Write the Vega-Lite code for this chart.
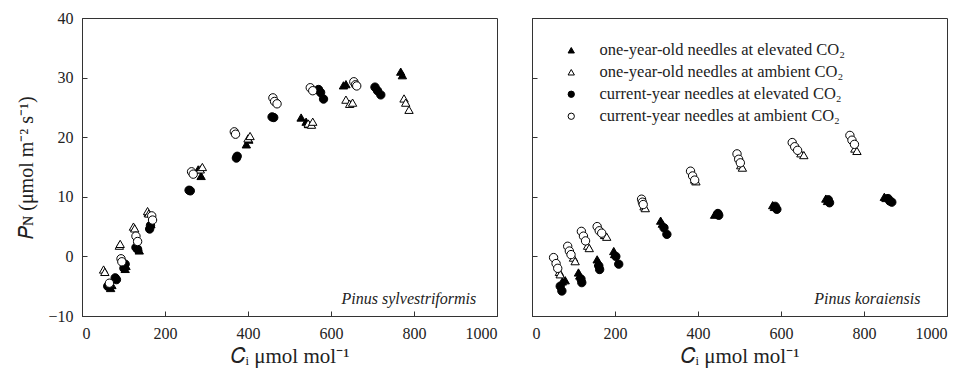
{
  "$schema": "https://vega.github.io/schema/vega-lite/v6.json",
  "background": "white",
  "padding": {"left": 16, "top": 9, "right": 5, "bottom": 5},
  "spacing": 35,
  "bounds": "flush",
  "config": {
    "font": "Times New Roman, Liberation Serif, serif",
    "view": {"stroke": "#333", "strokeWidth": 1},
    "axis": {
      "domainColor": "#333", "tickColor": "#333", "tickSize": -5, "grid": false,
      "labelFont": "Times New Roman, Liberation Serif, serif", "labelFontSize": 16, "labelColor": "#222", "labelPadding": 14,
      "titleFont": "Times New Roman, Liberation Serif, serif", "titleFontSize": 21, "titleColor": "#222", "titleFontWeight": "normal"
    }
  },
  "datasets": {
    "pts": [
      {"sp": "S", "g": "1E", "ci": 69, "pn": -5.3}, {"sp": "S", "g": "1E", "ci": 72, "pn": -4.8},
      {"sp": "S", "g": "1E", "ci": 104, "pn": -2.1}, {"sp": "S", "g": "1E", "ci": 106, "pn": -1.6},
      {"sp": "S", "g": "1E", "ci": 135, "pn": 1.5}, {"sp": "S", "g": "1E", "ci": 138, "pn": 1.0},
      {"sp": "S", "g": "1E", "ci": 166, "pn": 5.4}, {"sp": "S", "g": "1E", "ci": 160, "pn": 7.3},
      {"sp": "S", "g": "1E", "ci": 280, "pn": 14.6}, {"sp": "S", "g": "1E", "ci": 287, "pn": 13.5},
      {"sp": "S", "g": "1E", "ci": 396, "pn": 18.8}, {"sp": "S", "g": "1E", "ci": 402, "pn": 19.6},
      {"sp": "S", "g": "1E", "ci": 528, "pn": 23.3}, {"sp": "S", "g": "1E", "ci": 540, "pn": 22.6},
      {"sp": "S", "g": "1E", "ci": 546, "pn": 22.2}, {"sp": "S", "g": "1E", "ci": 630, "pn": 28.7},
      {"sp": "S", "g": "1E", "ci": 636, "pn": 28.9}, {"sp": "S", "g": "1E", "ci": 768, "pn": 31.0},
      {"sp": "S", "g": "1E", "ci": 772, "pn": 30.4},
      {"sp": "S", "g": "CE", "ci": 62, "pn": -5.0}, {"sp": "S", "g": "CE", "ci": 80, "pn": -3.6},
      {"sp": "S", "g": "CE", "ci": 83, "pn": -3.9}, {"sp": "S", "g": "CE", "ci": 104, "pn": -1.3},
      {"sp": "S", "g": "CE", "ci": 101, "pn": -2.0}, {"sp": "S", "g": "CE", "ci": 130, "pn": 1.5},
      {"sp": "S", "g": "CE", "ci": 134, "pn": 1.2}, {"sp": "S", "g": "CE", "ci": 163, "pn": 4.6},
      {"sp": "S", "g": "CE", "ci": 165, "pn": 5.2}, {"sp": "S", "g": "CE", "ci": 258, "pn": 11.1},
      {"sp": "S", "g": "CE", "ci": 261, "pn": 11.0}, {"sp": "S", "g": "CE", "ci": 372, "pn": 16.5},
      {"sp": "S", "g": "CE", "ci": 374, "pn": 16.8}, {"sp": "S", "g": "CE", "ci": 458, "pn": 23.4},
      {"sp": "S", "g": "CE", "ci": 462, "pn": 23.3}, {"sp": "S", "g": "CE", "ci": 570, "pn": 28.0},
      {"sp": "S", "g": "CE", "ci": 575, "pn": 27.5}, {"sp": "S", "g": "CE", "ci": 582, "pn": 26.4},
      {"sp": "S", "g": "CE", "ci": 706, "pn": 28.4}, {"sp": "S", "g": "CE", "ci": 712, "pn": 27.8},
      {"sp": "S", "g": "CE", "ci": 720, "pn": 27.1},
      {"sp": "S", "g": "1A", "ci": 52, "pn": -2.2}, {"sp": "S", "g": "1A", "ci": 55, "pn": -2.6},
      {"sp": "S", "g": "1A", "ci": 90, "pn": 1.8}, {"sp": "S", "g": "1A", "ci": 92, "pn": 2.1},
      {"sp": "S", "g": "1A", "ci": 124, "pn": 5.0}, {"sp": "S", "g": "1A", "ci": 127, "pn": 4.7},
      {"sp": "S", "g": "1A", "ci": 158, "pn": 7.6}, {"sp": "S", "g": "1A", "ci": 161, "pn": 7.2},
      {"sp": "S", "g": "1A", "ci": 285, "pn": 14.6}, {"sp": "S", "g": "1A", "ci": 290, "pn": 15.0},
      {"sp": "S", "g": "1A", "ci": 400, "pn": 19.8}, {"sp": "S", "g": "1A", "ci": 405, "pn": 20.2},
      {"sp": "S", "g": "1A", "ci": 545, "pn": 22.3}, {"sp": "S", "g": "1A", "ci": 553, "pn": 22.1},
      {"sp": "S", "g": "1A", "ci": 556, "pn": 22.6}, {"sp": "S", "g": "1A", "ci": 636, "pn": 26.3},
      {"sp": "S", "g": "1A", "ci": 645, "pn": 25.6}, {"sp": "S", "g": "1A", "ci": 652, "pn": 25.8},
      {"sp": "S", "g": "1A", "ci": 776, "pn": 26.5}, {"sp": "S", "g": "1A", "ci": 780, "pn": 25.8},
      {"sp": "S", "g": "1A", "ci": 788, "pn": 24.6},
      {"sp": "S", "g": "CA", "ci": 66, "pn": -4.5}, {"sp": "S", "g": "CA", "ci": 94, "pn": -0.4},
      {"sp": "S", "g": "CA", "ci": 96, "pn": -0.9}, {"sp": "S", "g": "CA", "ci": 130, "pn": 3.4},
      {"sp": "S", "g": "CA", "ci": 134, "pn": 2.5}, {"sp": "S", "g": "CA", "ci": 168, "pn": 6.8},
      {"sp": "S", "g": "CA", "ci": 170, "pn": 6.1}, {"sp": "S", "g": "CA", "ci": 264, "pn": 14.2},
      {"sp": "S", "g": "CA", "ci": 268, "pn": 13.8}, {"sp": "S", "g": "CA", "ci": 367, "pn": 20.9},
      {"sp": "S", "g": "CA", "ci": 370, "pn": 20.5}, {"sp": "S", "g": "CA", "ci": 460, "pn": 26.6},
      {"sp": "S", "g": "CA", "ci": 464, "pn": 26.0}, {"sp": "S", "g": "CA", "ci": 470, "pn": 25.6},
      {"sp": "S", "g": "CA", "ci": 550, "pn": 28.3}, {"sp": "S", "g": "CA", "ci": 556, "pn": 27.8},
      {"sp": "S", "g": "CA", "ci": 655, "pn": 29.3}, {"sp": "S", "g": "CA", "ci": 659, "pn": 28.8},
      {"sp": "S", "g": "CA", "ci": 662, "pn": 28.6},
      {"sp": "K", "g": "1E", "ci": 73, "pn": -4.2}, {"sp": "K", "g": "1E", "ci": 80, "pn": -4.0},
      {"sp": "K", "g": "1E", "ci": 112, "pn": -2.7}, {"sp": "K", "g": "1E", "ci": 115, "pn": -3.2},
      {"sp": "K", "g": "1E", "ci": 157, "pn": -0.5}, {"sp": "K", "g": "1E", "ci": 160, "pn": -1.0},
      {"sp": "K", "g": "1E", "ci": 197, "pn": 0.9}, {"sp": "K", "g": "1E", "ci": 199, "pn": 0.4},
      {"sp": "K", "g": "1E", "ci": 310, "pn": 6.0}, {"sp": "K", "g": "1E", "ci": 314, "pn": 5.5},
      {"sp": "K", "g": "1E", "ci": 440, "pn": 7.0}, {"sp": "K", "g": "1E", "ci": 446, "pn": 7.3},
      {"sp": "K", "g": "1E", "ci": 580, "pn": 8.6}, {"sp": "K", "g": "1E", "ci": 584, "pn": 8.3},
      {"sp": "K", "g": "1E", "ci": 708, "pn": 9.7}, {"sp": "K", "g": "1E", "ci": 712, "pn": 9.3},
      {"sp": "K", "g": "1E", "ci": 849, "pn": 10.0}, {"sp": "K", "g": "1E", "ci": 853, "pn": 9.8},
      {"sp": "K", "g": "CE", "ci": 68, "pn": -5.0}, {"sp": "K", "g": "CE", "ci": 72, "pn": -5.8},
      {"sp": "K", "g": "CE", "ci": 118, "pn": -3.8}, {"sp": "K", "g": "CE", "ci": 120, "pn": -4.4},
      {"sp": "K", "g": "CE", "ci": 161, "pn": -1.6}, {"sp": "K", "g": "CE", "ci": 163, "pn": -2.2},
      {"sp": "K", "g": "CE", "ci": 202, "pn": 0.0}, {"sp": "K", "g": "CE", "ci": 209, "pn": -1.3},
      {"sp": "K", "g": "CE", "ci": 318, "pn": 4.8}, {"sp": "K", "g": "CE", "ci": 325, "pn": 3.7},
      {"sp": "K", "g": "CE", "ci": 448, "pn": 7.2}, {"sp": "K", "g": "CE", "ci": 450, "pn": 6.9},
      {"sp": "K", "g": "CE", "ci": 586, "pn": 8.4}, {"sp": "K", "g": "CE", "ci": 590, "pn": 7.9},
      {"sp": "K", "g": "CE", "ci": 714, "pn": 9.5}, {"sp": "K", "g": "CE", "ci": 717, "pn": 9.0},
      {"sp": "K", "g": "CE", "ci": 858, "pn": 9.7}, {"sp": "K", "g": "CE", "ci": 862, "pn": 9.3},
      {"sp": "K", "g": "CE", "ci": 867, "pn": 9.1},
      {"sp": "K", "g": "1A", "ci": 66, "pn": -2.6}, {"sp": "K", "g": "1A", "ci": 68, "pn": -3.0},
      {"sp": "K", "g": "1A", "ci": 100, "pn": -0.2}, {"sp": "K", "g": "1A", "ci": 104, "pn": -0.8},
      {"sp": "K", "g": "1A", "ci": 134, "pn": 1.8}, {"sp": "K", "g": "1A", "ci": 138, "pn": 1.4},
      {"sp": "K", "g": "1A", "ci": 175, "pn": 3.6}, {"sp": "K", "g": "1A", "ci": 180, "pn": 3.3},
      {"sp": "K", "g": "1A", "ci": 270, "pn": 8.4}, {"sp": "K", "g": "1A", "ci": 273, "pn": 8.1},
      {"sp": "K", "g": "1A", "ci": 392, "pn": 12.9}, {"sp": "K", "g": "1A", "ci": 395, "pn": 12.6},
      {"sp": "K", "g": "1A", "ci": 503, "pn": 15.3}, {"sp": "K", "g": "1A", "ci": 507, "pn": 14.9},
      {"sp": "K", "g": "1A", "ci": 648, "pn": 17.3}, {"sp": "K", "g": "1A", "ci": 655, "pn": 17.0},
      {"sp": "K", "g": "1A", "ci": 778, "pn": 18.1}, {"sp": "K", "g": "1A", "ci": 783, "pn": 17.7},
      {"sp": "K", "g": "CA", "ci": 52, "pn": -0.2}, {"sp": "K", "g": "CA", "ci": 58, "pn": -1.2},
      {"sp": "K", "g": "CA", "ci": 62, "pn": -2.0}, {"sp": "K", "g": "CA", "ci": 86, "pn": 1.7},
      {"sp": "K", "g": "CA", "ci": 90, "pn": 0.9}, {"sp": "K", "g": "CA", "ci": 94, "pn": 0.3},
      {"sp": "K", "g": "CA", "ci": 119, "pn": 4.2}, {"sp": "K", "g": "CA", "ci": 124, "pn": 3.4},
      {"sp": "K", "g": "CA", "ci": 129, "pn": 2.6}, {"sp": "K", "g": "CA", "ci": 157, "pn": 5.0},
      {"sp": "K", "g": "CA", "ci": 162, "pn": 4.3}, {"sp": "K", "g": "CA", "ci": 168, "pn": 3.9},
      {"sp": "K", "g": "CA", "ci": 264, "pn": 9.6}, {"sp": "K", "g": "CA", "ci": 266, "pn": 9.1},
      {"sp": "K", "g": "CA", "ci": 268, "pn": 8.7}, {"sp": "K", "g": "CA", "ci": 382, "pn": 14.3},
      {"sp": "K", "g": "CA", "ci": 387, "pn": 13.5}, {"sp": "K", "g": "CA", "ci": 392, "pn": 12.8},
      {"sp": "K", "g": "CA", "ci": 494, "pn": 17.2}, {"sp": "K", "g": "CA", "ci": 498, "pn": 16.3},
      {"sp": "K", "g": "CA", "ci": 502, "pn": 15.7}, {"sp": "K", "g": "CA", "ci": 627, "pn": 19.1},
      {"sp": "K", "g": "CA", "ci": 633, "pn": 18.4}, {"sp": "K", "g": "CA", "ci": 640, "pn": 17.8},
      {"sp": "K", "g": "CA", "ci": 766, "pn": 20.3}, {"sp": "K", "g": "CA", "ci": 771, "pn": 19.5},
      {"sp": "K", "g": "CA", "ci": 777, "pn": 18.8}
    ]
  },
  "resolve": {"legend": {"shape": "independent", "fill": "independent", "stroke": "independent"}},
  "hconcat": [
    {
      "width": 415, "height": 298,
      "layer": [
        {
          "data": {"name": "pts"},
          "transform": [{"filter": "datum.sp == 'S'"}],
          "mark": {"type": "point", "filled": true, "strokeWidth": 1, "opacity": 1, "size": 70},
          "encoding": {
            "x": {"field": "ci", "type": "quantitative", "scale": {"domain": [0, 1000], "nice": false},
                  "axis": {"values": [0, 200, 400, 600, 800, 1000], "format": "d", "title": "𝐶ᵢ μmol mol⁻¹", "titlePadding": 4,
                           "labelFont": "Times New Roman, Liberation Serif, serif", "titleFont": "Times New Roman, Liberation Serif, serif", "labelFontSize": 16, "titleFontSize": 21}},
            "y": {"field": "pn", "type": "quantitative", "scale": {"domain": [-10, 40], "nice": false},
                  "axis": {"values": [-10, 0, 10, 20, 30, 40], "format": "d", "title": "𝑃ɴ (μmol m⁻² s⁻¹)", "titlePadding": 11,
                           "labelFont": "Times New Roman, Liberation Serif, serif", "titleFont": "Times New Roman, Liberation Serif, serif", "labelFontSize": 16, "titleFontSize": 20}},
            "shape": {"field": "g", "type": "nominal",
                      "scale": {"domain": ["1E", "1A", "CE", "CA"], "range": ["triangle-up", "triangle-up", "circle", "circle"]},
                      "legend": null},
            "fill": {"field": "g", "type": "nominal",
                     "scale": {"domain": ["1E", "1A", "CE", "CA"], "range": ["black", "white", "black", "white"]},
                     "legend": null},
            "stroke": {"field": "g", "type": "nominal",
                     "scale": {"domain": ["1E", "1A", "CE", "CA"], "range": ["black", "black", "black", "black"]},
                     "legend": null}
          }
        },
        {
          "data": {"values": [{}]},
          "mark": {"type": "text", "text": "Pinus sylvestriformis", "align": "right", "baseline": "alphabetic",
                   "fontStyle": "italic", "fontSize": 16, "font": "Times New Roman, Liberation Serif, serif", "color": "#222"},
          "encoding": {"x": {"datum": 950, "type": "quantitative"}, "y": {"datum": -8, "type": "quantitative"}}
        }
      ]
    },
    {
      "width": 415, "height": 298,
      "layer": [
        {
          "data": {"name": "pts"},
          "transform": [{"filter": "datum.sp == 'K'"}],
          "mark": {"type": "point", "filled": true, "strokeWidth": 1, "opacity": 1, "size": 70},
          "encoding": {
            "x": {"field": "ci", "type": "quantitative", "scale": {"domain": [0, 1000], "nice": false},
                  "axis": {"values": [0, 200, 400, 600, 800, 1000], "format": "d", "title": "𝐶ᵢ μmol mol⁻¹", "titlePadding": 4,
                           "labelFont": "Times New Roman, Liberation Serif, serif", "titleFont": "Times New Roman, Liberation Serif, serif", "labelFontSize": 16, "titleFontSize": 21}},
            "y": {"field": "pn", "type": "quantitative", "scale": {"domain": [-10, 40], "nice": false},
                  "axis": {"values": [-10, 0, 10, 20, 30, 40], "title": null, "labels": false}},
            "shape": {"field": "g", "type": "nominal",
                      "scale": {"domain": ["1E", "1A", "CE", "CA"], "range": ["triangle-up", "triangle-up", "circle", "circle"]},
                      "legend": {"orient": "none", "legendX": 31, "legendY": 24, "title": null, "padding": 0,
                                 "labelExpr": "{'1E': 'one-year-old needles at elevated CO₂', '1A': 'one-year-old needles at ambient CO₂', 'CE': 'current-year needles at elevated CO₂', 'CA': 'current-year needles at ambient CO₂'}[datum.value]",
                                 "symbolSize": 40, "symbolStrokeWidth": 1,
                                 "labelFont": "Times New Roman, Liberation Serif, serif", "labelFontSize": 16.5, "labelColor": "#222",
                                 "labelOffset": 20, "rowPadding": 5, "labelLimit": 400}},
            "fill": {"field": "g", "type": "nominal",
                     "scale": {"domain": ["1E", "1A", "CE", "CA"], "range": ["black", "white", "black", "white"]},
                     "legend": {"orient": "none", "legendX": 31, "legendY": 24, "title": null, "padding": 0,
                                "labelExpr": "{'1E': 'one-year-old needles at elevated CO₂', '1A': 'one-year-old needles at ambient CO₂', 'CE': 'current-year needles at elevated CO₂', 'CA': 'current-year needles at ambient CO₂'}[datum.value]",
                                "symbolSize": 40, "symbolStrokeWidth": 1,
                                "labelFont": "Times New Roman, Liberation Serif, serif", "labelFontSize": 16.5, "labelColor": "#222",
                                "labelOffset": 20, "rowPadding": 5, "labelLimit": 400}},
            "stroke": {"field": "g", "type": "nominal",
                     "scale": {"domain": ["1E", "1A", "CE", "CA"], "range": ["black", "black", "black", "black"]},
                     "legend": {"orient": "none", "legendX": 31, "legendY": 24, "title": null, "padding": 0,
                                "labelExpr": "{'1E': 'one-year-old needles at elevated CO₂', '1A': 'one-year-old needles at ambient CO₂', 'CE': 'current-year needles at elevated CO₂', 'CA': 'current-year needles at ambient CO₂'}[datum.value]",
                                "symbolSize": 40, "symbolStrokeWidth": 1,
                                "labelFont": "Times New Roman, Liberation Serif, serif", "labelFontSize": 16.5, "labelColor": "#222",
                                "labelOffset": 20, "rowPadding": 5, "labelLimit": 400}}
          }
        },
        {
          "data": {"values": [{}]},
          "mark": {"type": "text", "text": "Pinus koraiensis", "align": "right", "baseline": "alphabetic",
                   "fontStyle": "italic", "fontSize": 16, "font": "Times New Roman, Liberation Serif, serif", "color": "#222"},
          "encoding": {"x": {"datum": 936, "type": "quantitative"}, "y": {"datum": -8, "type": "quantitative"}}
        }
      ]
    }
  ]
}
